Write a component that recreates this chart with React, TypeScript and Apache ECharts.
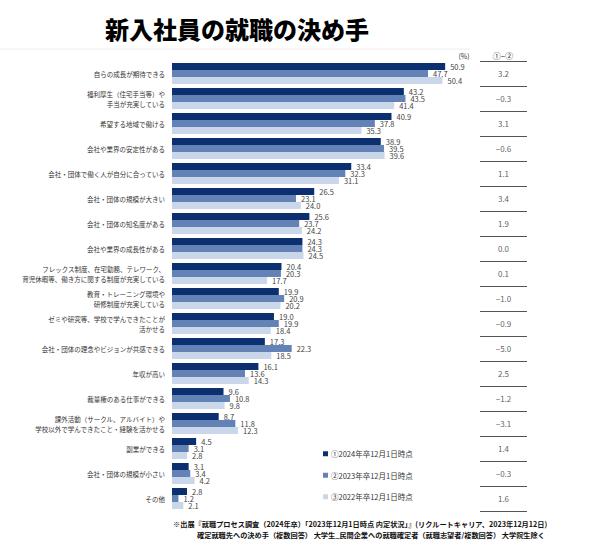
import React, { useEffect, useRef } from "react";
import * as echarts from "echarts";

const categories = [
  "自らの成長が期待できる",
  "福利厚生（住宅手当等）や\n手当が充実している",
  "希望する地域で働ける",
  "会社や業界の安定性がある",
  "会社・団体で働く人が自分に合っている",
  "会社・団体の規模が大きい",
  "会社・団体の知名度がある",
  "会社や業界の成長性がある",
  "フレックス制度、在宅勤務、テレワーク、\n育児休暇等、働き方に関する制度が充実している",
  "教育・トレーニング環境や\n研修制度が充実している",
  "ゼミや研究等、学校で学んできたことが\n活かせる",
  "会社・団体の理念やビジョンが共感できる",
  "年収が高い",
  "裁量権のある仕事ができる",
  "課外活動（サークル、アルバイト）や\n学校以外で学んできたこと・経験を活かせる",
  "副業ができる",
  "会社・団体の規模が小さい",
  "その他",
];

const seriesNames = ["①2024年卒12月1日時点", "②2023年卒12月1日時点", "③2022年卒12月1日時点"];

const values2024 = [50.9, 43.2, 40.9, 38.9, 33.4, 26.5, 25.6, 24.3, 20.4, 19.9, 19.0, 17.3, 16.1, 9.6, 8.7, 4.5, 3.1, 2.8];
const values2023 = [47.7, 43.5, 37.8, 39.5, 32.3, 23.1, 23.7, 24.3, 20.3, 20.9, 19.9, 22.3, 13.6, 10.8, 11.8, 3.1, 3.4, 1.2];
const values2022 = [50.4, 41.4, 35.3, 39.6, 31.1, 24.0, 24.2, 24.5, 17.7, 20.2, 18.4, 18.5, 14.3, 9.8, 12.3, 2.8, 4.2, 2.1];

const colors = ["#0b2f6f", "#6383b7", "#cad6ea"];

const title = "新入社員の就職の決め手";
const unitLabel = "(%)";
const diffHeader = "①−②";
const footer1 = "※出展『就職プロセス調査（2024年卒）「2023年12月1日時点 内定状況」』(リクルートキャリア、2023年12月12日)";
const footer2 = "確定就職先への決め手（複数回答） 大学生_民間企業への就職確定者（就職志望者/複数回答） 大学院生除く";

const FONT = '"Noto Sans CJK JP", "Noto Sans", sans-serif';

export default function App() {
  const ref = useRef<HTMLDivElement>(null);

  useEffect(() => {
    if (!ref.current) return;
    const chart = echarts.init(ref.current, null, { renderer: "svg" });

    const diffs = values2024.map((v, i) => {
      const d = Math.round((v - values2023[i]) * 10) / 10;
      const s = d.toFixed(1);
      return d < 0 ? "−" + Math.abs(d).toFixed(1) : s;
    });

    const valueSeries = [values2024, values2023, values2022].map((arr, i) => ({
      name: seriesNames[i],
      type: "bar",
      xAxisIndex: 0,
      yAxisIndex: 0,
      data: arr,
      barWidth: 7,
      barGap: "0%",
      itemStyle: { color: colors[i] },
      label: {
        show: true,
        position: "right",
        distance: 5,
        fontSize: 7.5,
        lineHeight: 7,
        color: "#444",
        fontFamily: FONT,
        formatter: (p: any) => Number(p.value).toFixed(1),
      },
    }));

    const option: any = {
      animation: false,
      backgroundColor: "#ffffff",
      textStyle: { fontFamily: FONT },
      grid: [
        { left: 172, top: 61, width: 322, height: 450 },
        { left: 480, top: 61, width: 47, height: 450 },
      ],
      xAxis: [
        { type: "value", gridIndex: 0, min: 0, max: 60, show: false },
        { type: "value", gridIndex: 1, min: 0, max: 1, show: false },
      ],
      yAxis: [
        {
          type: "category",
          gridIndex: 0,
          data: categories,
          inverse: true,
          axisLine: { show: false },
          axisTick: { show: false },
          splitLine: { show: false },
          axisLabel: {
            fontSize: 6.5,
            lineHeight: 10,
            color: "#333",
            margin: 7,
            align: "right",
            fontFamily: FONT,
          },
        },
        {
          type: "category",
          gridIndex: 1,
          data: categories,
          inverse: true,
          axisLine: { show: false },
          axisTick: { show: false },
          axisLabel: { show: false },
          splitLine: { show: true, lineStyle: { color: "#555", width: 1 } },
        },
      ],
      legend: {
        orient: "vertical",
        left: 318,
        top: 445,
        itemWidth: 5,
        itemHeight: 5,
        itemGap: 14,
        icon: "rect",
        data: seriesNames,
        textStyle: { fontSize: 7.5, color: "#333", fontFamily: FONT, padding: [0, 0, 0, -2] },
      },
      series: [
        ...valueSeries,
        {
          type: "scatter",
          xAxisIndex: 1,
          yAxisIndex: 1,
          data: diffs.map((d, i) => [0.5, i]),
          symbolSize: 1,
          itemStyle: { color: "rgba(0,0,0,0)" },
          label: {
            show: true,
            position: "inside",
            fontSize: 8,
            color: "#333",
            fontFamily: FONT,
            formatter: (p: any) => diffs[p.dataIndex],
          },
          silent: true,
        },
      ],
      graphic: [
        {
          type: "line",
          shape: { x1: 0, y1: 49, x2: 470, y2: 49 },
          style: { stroke: "#ececec", lineWidth: 1 },
        },
        {
          type: "text",
          left: 105,
          top: 16,
          style: {
            text: title,
            font: `900 24px ${FONT}`,
            fill: "#000",
          },
        },
        {
          type: "text",
          x: 464,
          y: 56,
          style: { text: unitLabel, font: `7px ${FONT}`, fill: "#333", align: "center", verticalAlign: "middle" },
        },
        {
          type: "text",
          x: 503,
          y: 55,
          style: { text: diffHeader, font: `8px ${FONT}`, fill: "#333", align: "center", verticalAlign: "middle" },
        },
        {
          type: "text",
          x: 173,
          y: 524,
          style: { text: footer1, font: `bold 7.2px ${FONT}`, fill: "#111", verticalAlign: "middle" },
        },
        {
          type: "text",
          x: 197,
          y: 535,
          style: { text: footer2, font: `bold 7.2px ${FONT}`, fill: "#111", verticalAlign: "middle" },
        },
      ],
    };

    chart.setOption(option);
    return () => chart.dispose();
  }, []);

  return (
    <div
      ref={ref}
      style={{ position: "fixed", left: 0, top: 0, width: 600, height: 544, background: "#fff" }}
    />
  );
}
